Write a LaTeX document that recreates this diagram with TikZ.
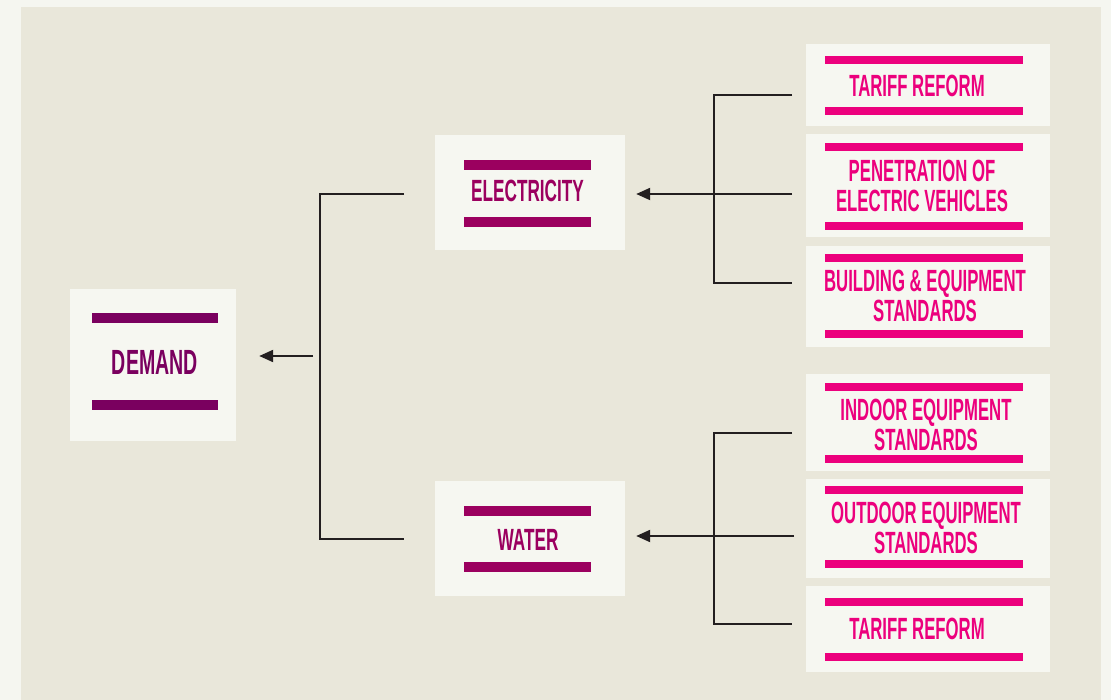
\documentclass[tikz,border=0pt]{standalone}
\usepackage{fontspec}
\newfontfamily\cond[FakeStretch=0.56]{Liberation Sans}
\newfontfamily\condn[FakeStretch=0.545]{Liberation Sans}
\usetikzlibrary{arrows.meta}
\definecolor{outerbg}{HTML}{F5F6F0}
\definecolor{panelbg}{HTML}{E9E7DA}
\definecolor{boxfill}{HTML}{F6F7F1}
\definecolor{dempurple}{HTML}{7A005F}
\definecolor{midpurple}{HTML}{9B005F}
\definecolor{hotpink}{HTML}{EC007D}
\definecolor{linecol}{HTML}{231F20}
\tikzset{
  box/.style={fill=boxfill, draw=none, inner sep=0pt},
  demtxt/.style={inner sep=0pt, text=dempurple, font=\cond\bfseries\fontsize{35}{35}\selectfont},
  midtxt/.style={inner sep=0pt, text=midpurple, font=\cond\bfseries\fontsize{30.7}{30}\selectfont},
  pinktxt/.style={inner sep=0pt, text=hotpink, align=center, font=\condn\bfseries\fontsize{30.7}{30}\selectfont},
  conn/.style={draw=linecol, line width=2.1pt},
  arr/.style={conn, -{Triangle[length=14pt,width=12pt]}},
}
\begin{document}
\begin{tikzpicture}[x=1pt,y=-1pt]
\useasboundingbox (0,0) rectangle (1111,700);
\fill[outerbg] (0,0) rectangle (1111,700);
\fill[panelbg] (21,7) rectangle (1101,700);

% DEMAND
\node[box, minimum width=166pt, minimum height=152pt] (demand) at (153,365) {};
\fill[dempurple] (92,313) rectangle (218,323);
\fill[dempurple] (92,400) rectangle (218,410);
\node[demtxt] (tdemand) at (155,362) {DEMAND};

% ELECTRICITY
\node[box, minimum width=190pt, minimum height=115pt] (elec) at (530,192.5) {};
\fill[midpurple] (464,160) rectangle (591,170);
\fill[midpurple] (464,217) rectangle (591,227);
\node[midtxt] (telec) at (527.5,191) {ELECTRICITY};

% WATER
\node[box, minimum width=190pt, minimum height=115pt] (water) at (530,538.5) {};
\fill[midpurple] (464,506) rectangle (591,516);
\fill[midpurple] (464,562) rectangle (591,572);
\node[midtxt] (twater) at (528,540) {WATER};

% right boxes
\node[box, minimum width=244pt, minimum height=82pt] (r1) at (928,85) {};
\fill[hotpink] (825,56) rectangle (1023,64);
\fill[hotpink] (825,107.5) rectangle (1023,115.5);
\node[pinktxt] (t1) at (917,86) {TARIFF REFORM};

\node[box, minimum width=244pt, minimum height=103pt] (r2) at (928,185.5) {};
\fill[hotpink] (825,143) rectangle (1023,151);
\fill[hotpink] (825,222) rectangle (1023,230);
\node[pinktxt] (t2) at (922,186) {PENETRATION OF\\ELECTRIC VEHICLES};

\node[box, minimum width=244pt, minimum height=101pt] (r3) at (928,296.5) {};
\fill[hotpink] (825,254) rectangle (1023,262);
\fill[hotpink] (825,330) rectangle (1023,338);
\node[pinktxt] (t3) at (925,296) {BUILDING \& EQUIPMENT\\STANDARDS};

\node[box, minimum width=244pt, minimum height=97pt] (r4) at (928,422.5) {};
\fill[hotpink] (825,383) rectangle (1023,391);
\fill[hotpink] (825,454.5) rectangle (1023,462.5);
\node[pinktxt] (t4) at (926,424.5) {INDOOR EQUIPMENT\\STANDARDS};

\node[box, minimum width=244pt, minimum height=99pt] (r5) at (928,528.5) {};
\fill[hotpink] (825,486) rectangle (1023,494);
\fill[hotpink] (825,560) rectangle (1023,568);
\node[pinktxt] (t5) at (926,528) {OUTDOOR EQUIPMENT\\STANDARDS};

\node[box, minimum width=244pt, minimum height=86pt] (r6) at (928,629) {};
\fill[hotpink] (825,597.5) rectangle (1023,605.5);
\fill[hotpink] (825,653) rectangle (1023,661);
\node[pinktxt] (t6) at (917,629) {TARIFF REFORM};

% left bracket
\coordinate (eL) at (404,194);
\coordinate (wL) at (404,539);
\coordinate (lTop) at (320,194);
\coordinate (lBot) at (320,539);
\draw[conn] (eL) -- (lTop) -- (lBot) -- (wL);
\coordinate (dA) at (313,356);
\draw[arr, shorten >=23pt] (dA) -- (demand.east |- dA);

% top right bracket
\coordinate (r1e) at (792,95);
\coordinate (r3e) at (792,283);
\coordinate (b1) at (714,95);
\coordinate (b2) at (714,283);
\draw[conn] (r1e) -- (b1) -- (b2) -- (r3e);
\coordinate (r2e) at (792,194);
\draw[arr, shorten >=11pt] (r2e) -- (elec.east |- r2e);

% bottom right bracket
\coordinate (r4e) at (792,433);
\coordinate (r6e) at (792,624);
\coordinate (b3) at (714,433);
\coordinate (b4) at (714,624);
\draw[conn] (r4e) -- (b3) -- (b4) -- (r6e);
\coordinate (r5e) at (794,536);
\draw[arr, shorten >=11pt] (r5e) -- (water.east |- r5e);
\end{tikzpicture}
\end{document}
